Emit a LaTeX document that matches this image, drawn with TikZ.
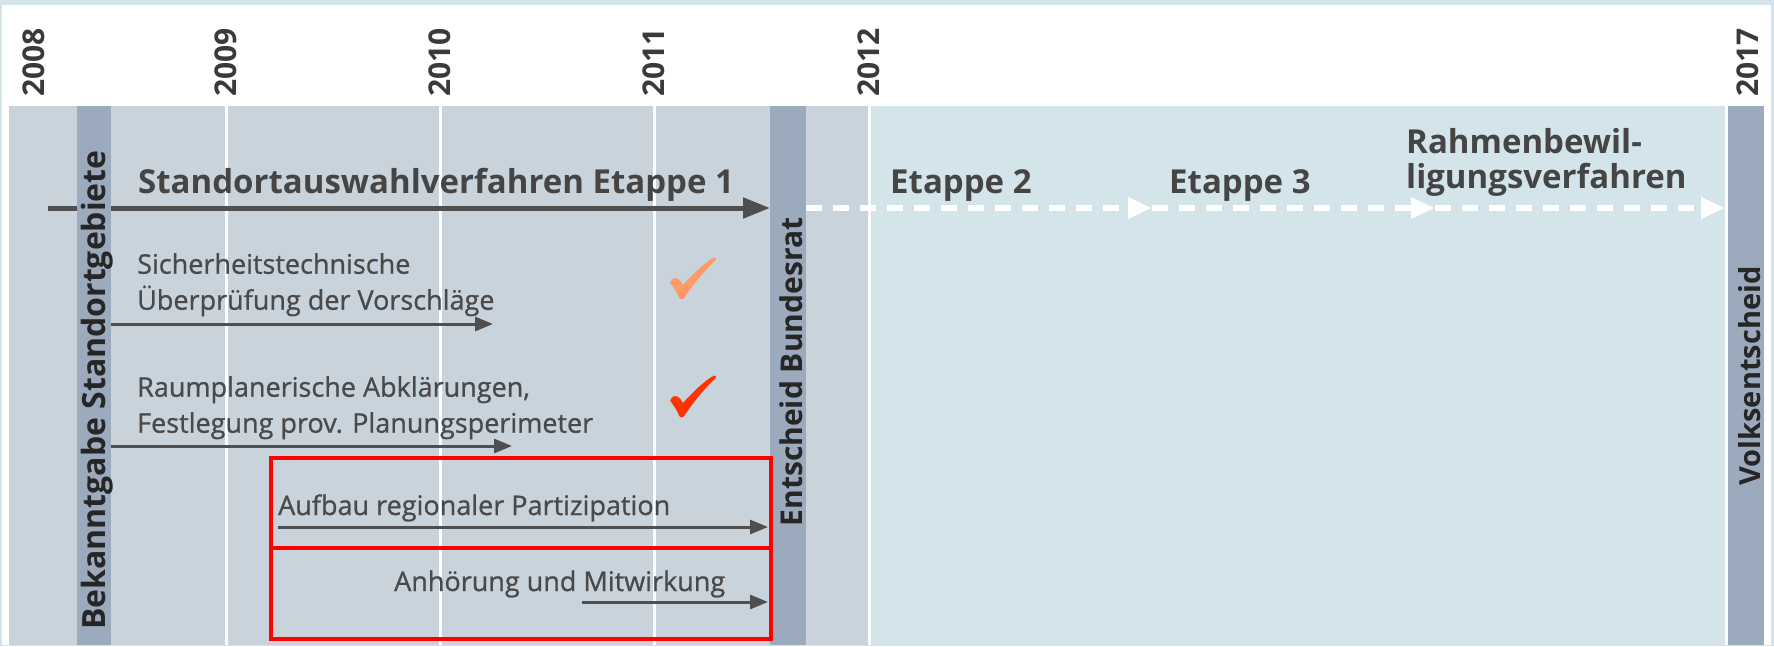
\documentclass[tikz,border=0pt]{standalone}
\usepackage{fontspec}
\setmainfont{Open Sans}
\newfontfamily\subfont{Open Sans}[FakeBold=0.8]
\usetikzlibrary{arrows.meta}
\definecolor{framec}{HTML}{D4E4EB}
\definecolor{leftbg}{HTML}{C8D3DC}
\definecolor{rightbg}{HTML}{D3E4EB}
\definecolor{barc}{HTML}{9BAABD}
\definecolor{txt}{HTML}{454545}
\definecolor{yeartxt}{HTML}{3A3A3A}
\definecolor{bartxt}{HTML}{262626}
\definecolor{subtxt}{HTML}{4A4A4A}
\definecolor{arr}{HTML}{4F4F4F}
\definecolor{redbox}{HTML}{FF0000}
\definecolor{chkor}{HTML}{FF9966}
\definecolor{chkred}{HTML}{FF3300}
\tikzset{
  yearlbl/.style={rotate=90, anchor=west, inner sep=0pt, font=\bfseries\fontsize{30}{30}\selectfont, text=yeartxt},
  barlbl/.style={rotate=90, anchor=base, inner sep=0pt, font=\bfseries\fontsize{#1}{#1}\selectfont, text=bartxt},
  titlelbl/.style={anchor=base west, inner sep=0pt, font=\bfseries\fontsize{33}{35}\selectfont, text=txt},
  multititle/.style={anchor=north west, inner sep=0pt, align=left, font=\bfseries\fontsize{33}{35}\selectfont, text=txt},
  sublbl/.style={anchor=base west, inner sep=0pt, font=\subfont\fontsize{27}{35}\selectfont, text=subtxt},
  multisub/.style={anchor=north west, inner sep=0pt, align=left, font=\subfont\fontsize{27}{36}\selectfont, text=subtxt},
  mainarrow/.style={draw=arr, line width=5pt, -{Triangle[length=27pt,width=20pt]}},
  subarrow/.style={draw=arr, line width=3pt, -{Triangle[length=18pt,width=14pt]}},
  dasharrow/.style={draw=white, line width=6pt, dash pattern=on 16pt off 11pt, -{Triangle[length=24pt,width=20pt]}},
  redframe/.style={draw=redbox, line width=4pt, minimum width=500pt, minimum height=90pt, inner sep=0pt, anchor=north west},
  yearline/.style={draw=white, line width=3pt},
  checkmark/.pic={
    \fill[pic actions] (0.2,25.7) .. controls (1.5,20.5) and (7,19.5) .. (10,23.5) -- (13,28)
      .. controls (22,18) and (34,6) .. (44,0.5) .. controls (46,0.3) and (46.8,2) .. (45.5,3.2)
      .. controls (36,12) and (24,26) .. (13.8,41.5) .. controls (12.5,43) and (9.8,43) .. (9.2,41)
      .. controls (6.5,34) and (3.5,30.5) .. (0.2,25.7) -- cycle;
  }
}
\begin{document}
\begin{tikzpicture}[x=1pt,y=-1pt]
\useasboundingbox (0,0) rectangle (1774,646);
% frame and backgrounds
\fill[framec] (0,0) rectangle (1774,646);
\fill[white] (2,5) rectangle (1771,645);
\fill[leftbg] (9,106) rectangle (869,645);
\fill[rightbg] (869,106) rectangle (1726,645);
% year lines
\foreach \xx in {226,440,654,869,1726}
  \draw[yearline] (\xx,106) -- (\xx,645);
% year labels
\node[yearlbl] (y2008) at (34,97) {2008};
\node[yearlbl] (y2009) at (226,97) {2009};
\node[yearlbl] (y2010) at (440,97) {2010};
\node[yearlbl] (y2011) at (654,97) {2011};
\node[yearlbl] (y2012) at (869,97) {2012};
\node[yearlbl] (y2017) at (1748,97) {2017};
% main arrow (behind the first bar)
\coordinate (mainstart) at (48,208);
\coordinate (mainend) at (770,208);
\draw[mainarrow] (mainstart) -- (mainend);
% bars
\fill[barc] (77,106) rectangle (111,645);
\fill[barc] (770,106) rectangle (806,645);
\fill[barc] (1728,106) rectangle (1764,645);
\node[barlbl=32] (bek) at (105,390) {Bekanntgabe Standortgebiete};
\node[barlbl=30] (bund) at (802,372) {Entscheid Bundesrat};
\node[barlbl=29] (volk) at (1760,376) {Volksentscheid};
% dashed arrows
\coordinate (dstart) at (806,208);
\coordinate (e2end) at (1152,208);
\coordinate (e3end) at (1435,208);
\coordinate (rbend) at (1725,208);
\draw[dasharrow] (dstart) -- (e2end);
\draw[dasharrow] (e2end) -- (e3end);
\draw[dasharrow] (e3end) -- (rbend);
% titles
\node[titlelbl] (t1) at (138,193) {Standortauswahlverfahren Etappe 1};
\node[titlelbl] (t2) at (890,193) {Etappe 2};
\node[titlelbl] (t3) at (1169,193) {Etappe 3};
\node[multititle] (t4) at (1406,128) {Rahmenbewil-\\ligungsverfahren};
% sub tasks
\node[multisub] (s1) at (137,253) {Sicherheitstechnische\\Überprüfung der Vorschläge};
\coordinate (s1a) at (111,324);
\coordinate (s1b) at (493,324);
\draw[subarrow] (s1a) -- (s1b);
\node[multisub] (s2) at (137,376) {Raumplanerische Abklärungen,\\Festlegung prov. Planungsperimeter};
\coordinate (s2a) at (111,446);
\coordinate (s2b) at (512,446);
\draw[subarrow] (s2a) -- (s2b);
% red frames
\node[redframe] (box1) at (269,456) {};
\node[redframe, minimum height=91pt] (box2) at (269,546) {};
\node[sublbl] (s3) at (278,515) {Aufbau regionaler Partizipation};
\coordinate (s3a) at (278,527);
\coordinate (s3b) at (768,527);
\draw[subarrow] (s3a) -- (s3b);
\node[sublbl] (s4) at (394,591) {Anhörung und Mitwirkung};
\coordinate (s4a) at (582,602);
\coordinate (s4b) at (768,602);
\draw[subarrow] (s4a) -- (s4b);
% check marks
\pic[fill=chkor] (chk1) at (670,257) {checkmark};
\pic[fill=chkred] (chk2) at (670,375) {checkmark};
\end{tikzpicture}
\end{document}
